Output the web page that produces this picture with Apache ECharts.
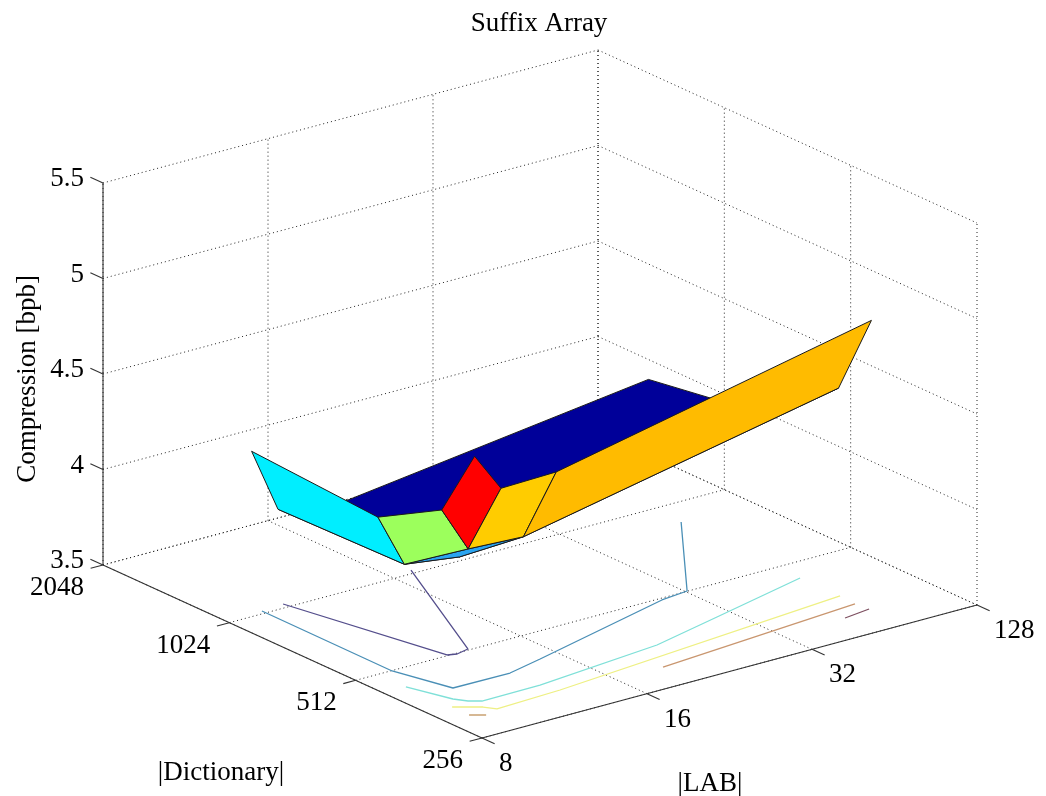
<!DOCTYPE html>
<html>
<head>
<meta charset="utf-8">
<style>html,body{margin:0;padding:0;background:#fff}#c{width:1046px;height:796px}</style>
<script src="https://cdn.jsdelivr.net/npm/echarts@6/dist/echarts.min.js"></script>
</head>
<body>
<div id="c"></div>
<script>
// ---------- tick labels (evenly spaced on their axes) ----------
const labTicks = ['8', '16', '32', '128'];
const dictTicks = ['256', '512', '1024', '2048'];
const zTicks = [3.5, 4, 4.5, 5, 5.5];

// ---------- surface samples, in axis tick units ----------
const labSamples = [0.135, 0.295, 0.63, 2.54];
const dictSamples = [0.235, 0.495, 1, 2];
const compressionDict0 = [4.873, 4.668, 4.676, 5.026];
const compressionDict1 = [4.513, 4.272, 4.258, 4.593];
const compressionDict2 = [4.323, 4.039, 4.000, 4.287];
const compressionDict3 = [4.366, 4.025, 3.965, 4.184];
const compression = [compressionDict0, compressionDict1, compressionDict2, compressionDict3];

// ---------- faces: [lab cell, dict cell, colour], back to front ----------
const faces = [
  [1, 2, '#000099'], [2, 2, '#000099'], [2, 1, '#000099'], [1, 1, '#2aa4f0'],
  [0, 2, '#00eeff'], [0, 1, '#9cff5c'], [0, 0, '#ff0000'],
  [1, 0, '#ffcc00'], [2, 0, '#ffbb00']
];

// ---------- contours on the floor: [lab, dict] in axis tick units ----------
const contourPurple = [[0.361,2.046],[0.560,1.009],[0.607,0.990],[0.690,1.013],[1.133,2.042]];
const contourBlue = [[0.222,2.032],[0.217,0.995],[0.307,0.631],[0.650,0.627],[0.882,0.692],[1.840,0.979],[2.011,1.003],[2.565,1.774]];
const contourTeal = [[0.136,0.780],[0.215,0.511],[0.256,0.445],[0.309,0.404],[0.664,0.408],[1.445,0.502],[1.908,0.632],[2.551,0.814]];
const contourYellow = [[0.145,0.426],[0.263,0.335],[0.300,0.273],[0.699,0.295],[2.553,0.500]];
const contourBrownShort = [[0.143,0.289],[0.208,0.239]];
const contourBrownLong = [[1.284,0.244],[2.543,0.369]];
const contourDarkBrown = [[2.388,0.245],[2.555,0.273]];
const contours = [
  [contourPurple, '#544e8c'], [contourBlue, '#4a8fb6'], [contourTeal, '#7fe0d8'],
  [contourYellow, '#eef084'], [contourBrownShort, '#c8a070'], [contourBrownLong, '#c9966f'],
  [contourDarkBrown, '#7d4f60']
];

// ---------- view: orthographic axis vectors on the picture plane ----------
const view = { ox: 482, oy: 738, labX: 165, labY: -44.33, dictX: -126.33, dictY: -57.67, zY: -191, zMin: 3.5 };
function project(lab, dict, z) {
  return [
    view.ox + view.labX * lab + view.dictX * dict,
    view.oy + view.labY * lab + view.dictY * dict + view.zY * (z - view.zMin)
  ];
}

const labEnd = labTicks.length - 1, dictEnd = dictTicks.length - 1;
const zLow = zTicks[0], zHigh = zTicks[zTicks.length - 1];

function pathSeries(points, color, width, dash) {
  return {
    type: 'line', data: points, symbol: 'none', silent: true, animation: false, clip: false,
    lineStyle: { color: color, width: width, type: dash || 'solid', cap: 'butt' }, z: 2
  };
}
const series = [];
const dotted = (p) => series.push(pathSeries(p, '#222222', 1, [1, 3]));

// grid lines: floor, back-left wall, back-right wall
labTicks.forEach((_, a) => {
  dotted([project(a, 0, zLow), project(a, dictEnd, zLow)]);
  dotted([project(a, dictEnd, zLow), project(a, dictEnd, zHigh)]);
});
dictTicks.forEach((_, b) => {
  dotted([project(0, b, zLow), project(labEnd, b, zLow)]);
  dotted([project(labEnd, b, zLow), project(labEnd, b, zHigh)]);
});
zTicks.forEach((z) => {
  dotted([project(0, dictEnd, z), project(labEnd, dictEnd, z)]);
  dotted([project(labEnd, dictEnd, z), project(labEnd, 0, z)]);
});

// contours
contours.forEach(([pts, color]) => {
  series.push(pathSeries(pts.map(([a, b]) => project(a, b, zLow)), color, 1.3));
});

// solid box edges and tick marks
const solid = (p) => series.push(pathSeries(p, '#333333', 1.1));
solid([project(0, dictEnd, zLow), project(0, dictEnd, zHigh)]);
solid([project(0, dictEnd, zLow), project(0, 0, zLow)]);
solid([project(0, 0, zLow), project(labEnd, 0, zLow)]);
zTicks.forEach((z) => solid([project(0, dictEnd, z), project(0, dictEnd + 0.1, z)]));
dictTicks.forEach((_, b) => solid([project(0, b, zLow), project(-0.075, b, zLow)]));
labTicks.forEach((_, a) => solid([project(a, 0, zLow), project(a, -0.1, zLow)]));

// surface faces
series.push({
  type: 'custom', silent: true, animation: false, clip: false, z: 5,
  data: faces.map((f) => [f[0], f[1]]),
  renderItem: function (params, api) {
    const f = faces[params.dataIndex], i = f[0], j = f[1];
    const corner = (ci, cj) => api.coord(project(labSamples[ci], dictSamples[cj], compression[cj][ci]));
    return {
      type: 'polygon',
      shape: { points: [corner(i, j), corner(i + 1, j), corner(i + 1, j + 1), corner(i, j + 1)] },
      style: { fill: f[2], stroke: '#1a1a1a', lineWidth: 1, lineJoin: 'round' }
    };
  }
});

// axis text
const FONT = '27px "Liberation Serif"';
const texts = [];
zTicks.forEach((z) => {
  const p = project(0, dictEnd, z);
  texts.push({ t: String(z), p: p, dx: -19, dy: -4, align: 'right' });
});
dictTicks.forEach((t, b) => texts.push({ t: t, p: project(0, b, zLow), dx: -19, dy: 23, align: 'right' }));
labTicks.forEach((t, a) => texts.push({ t: t, p: project(a, 0, zLow), dx: 17, dy: 26, align: 'left' }));
texts.push({ t: '|Dictionary|', p: [221, 773], dx: 0, dy: 0, align: 'center' });
texts.push({ t: '|LAB|', p: [710, 784], dx: 0, dy: 0, align: 'center' });
texts.push({ t: 'Compression [bpb]', p: [28, 379], dx: 0, dy: 0, align: 'center', rot: Math.PI / 2 });
series.push({
  type: 'custom', silent: true, animation: false, clip: false, z: 6,
  data: texts.map((_, i) => [i]),
  renderItem: function (params, api) {
    const d = texts[params.dataIndex], c = api.coord(d.p);
    return {
      type: 'text', x: c[0] + d.dx, y: c[1] + d.dy, rotation: d.rot || 0,
      style: { text: d.t, font: FONT, fill: '#000', align: d.align, verticalAlign: 'middle' }
    };
  }
});

const chart = echarts.init(document.getElementById('c'), null, { renderer: 'canvas' });
chart.setOption({
  animation: false,
  backgroundColor: '#ffffff',
  title: {
    text: 'Suffix Array', left: 538, top: 5, textAlign: 'center',
    textStyle: { fontFamily: 'Liberation Serif', fontSize: 27, fontWeight: 'normal', color: '#000' }
  },
  grid: { left: 0, right: 0, top: 0, bottom: 0 },
  xAxis: { type: 'value', min: 0, max: 1046, show: false },
  yAxis: { type: 'value', min: 0, max: 796, inverse: true, show: false },
  series: series
});
chart.setOption({ title: { left: 534 } });
</script>
</body>
</html>
